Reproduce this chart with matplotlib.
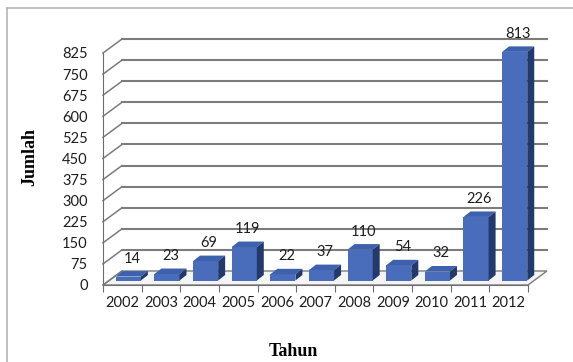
import matplotlib
matplotlib.use("Agg")
import matplotlib.pyplot as plt
from matplotlib.patches import Polygon
from matplotlib.lines import Line2D
import numpy as np

years = ['2002', '2003', '2004', '2005', '2006', '2007',
         '2008', '2009', '2010', '2011', '2012']
jumlah = [14, 23, 69, 119, 22, 37, 110, 54, 32, 226, 813]
y_ticks = list(range(0, 826, 75))

W, H = 573, 362
fig = plt.figure(figsize=(W / 100, H / 100), dpi=100)
ax = fig.add_axes([103 / W, 77 / H, 425 / W, 232 / H])
n = len(years)
ymax = y_ticks[-1]
ax.set_xlim(0, n)
ax.set_ylim(0, ymax)

# pixel -> data conversions for the fake 3D depth
px_x = n / 425.0
px_y = ymax / 232.0
fx, fy = 19 * px_x, 14 * px_y          # floor / wall depth
bx, by = 6 * px_x, 4.5 * px_y          # bar front offset
dx, dy = 7 * px_x, 5.5 * px_y          # bar depth
grid_c = '#7c7c7c'
txt_c = '#1e1e1e'

# floor
floor = Polygon([(0, 0), (n, 0), (n + fx, fy), (fx, fy)], closed=True,
                facecolor='#f4f4f4', edgecolor=grid_c, lw=1.0, clip_on=False, zorder=1)
ax.add_patch(floor)

# side wall diagonals and back wall gridlines
for t in y_ticks:
    ax.plot([0, fx], [t, t + fy], color=grid_c, lw=1.1, clip_on=False, zorder=1)
    if t > 0:
        ax.plot([fx, n + fx], [t + fy, t + fy], color=grid_c, lw=1.5,
                clip_on=False, zorder=1)

# bars with front, top and side faces
w = 0.65
front_c, top_c, side_c = '#4a6dbb', '#3e61ad', '#22396b'
centers = np.arange(n) + 0.5
ax.bar(centers + bx, jumlah, width=w, bottom=by, color=front_c,
       edgecolor='none', zorder=3, clip_on=False)
for c, v in zip(centers, jumlah):
    x0 = c + bx - w / 2
    x1 = c + bx + w / 2
    top = v + by
    ax.add_patch(Polygon([(x0, top), (x1, top), (x1 + dx, top + dy), (x0 + dx, top + dy)],
                         closed=True, facecolor=top_c, edgecolor='none', zorder=3,
                         clip_on=False))
    ax.add_patch(Polygon([(x1, by), (x1 + dx, by + dy), (x1 + dx, top + dy), (x1, top)],
                         closed=True, facecolor=side_c, edgecolor='none', zorder=3,
                         clip_on=False))
    ax.annotate(str(v), (c + bx + dx / 2, top + dy), xytext=(0, 4),
                textcoords='offset points', ha='center', va='bottom',
                fontsize=10.5, family='Lato', color=txt_c, zorder=4,
                annotation_clip=False)

# axes styling
for s in ['top', 'right']:
    ax.spines[s].set_visible(False)
ax.spines['left'].set_color('#6e6e6e')
ax.spines['bottom'].set_color('#6e6e6e')
ax.set_facecolor('none')
ax.set_yticks(y_ticks)
ax.set_yticklabels([str(t) for t in y_ticks], fontsize=10.5, family='Lato', color=txt_c)
ax.tick_params(axis='y', length=0, pad=11)
ax.set_xticks(np.arange(n + 1))
ax.set_xticklabels([])
ax.set_xticks(centers, minor=True)
ax.set_xticklabels(years, minor=True, fontsize=10.5, family='Lato', color=txt_c)
ax.tick_params(axis='x', which='major', length=5, color='#6e6e6e', direction='out')
ax.tick_params(axis='x', which='minor', length=0, pad=8)

ax.set_ylabel('Jumlah', family='Liberation Serif', fontweight='bold', fontsize=13)
ax.yaxis.set_label_coords(-0.152, 0.55)
ax.set_xlabel('Tahun', family='Liberation Serif', fontweight='bold', fontsize=13)
ax.xaxis.set_label_coords(0.447, -0.25)

# chart frame
fig.add_artist(Line2D([7 / W, 7 / W], [0, 1 - 8 / H], color='#b5b5b5', lw=1.2))
fig.add_artist(Line2D([7 / W, 1], [1 - 8 / H, 1 - 8 / H], color='#b5b5b5', lw=1.2))

fig.savefig('out.png', dpi=100)
